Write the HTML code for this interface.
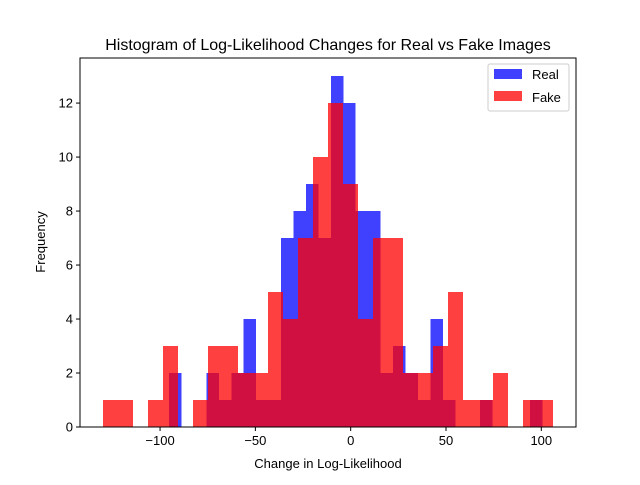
<!DOCTYPE html>
<html><head><meta charset="utf-8"><style>
body{margin:0;background:#fff;font-family:"Liberation Sans",sans-serif}
</style></head><body>
<svg id="chart" width="640" height="480" font-family="Liberation Sans, sans-serif">
<rect width="640" height="480" fill="#fff"/>
<text x="328" y="50" text-anchor="middle" font-size="16">Histogram of Log-Likelihood Changes for Real vs Fake Images</text>
<g id="bars"></g>
<g id="axes"></g>
<text x="328" y="468" text-anchor="middle" font-size="13">Change in Log-Likelihood</text>
<text x="0" y="0" transform="translate(45,242) rotate(-90)" text-anchor="middle" font-size="13">Frequency</text>
<g>
<rect x="488" y="64" width="81" height="47" fill="#fff" stroke="#ccc" rx="2"/>
<g><rect x="494" y="69" width="28" height="10" fill="#0000ff" fill-opacity="0.75"/><text x="532" y="79" font-size="13">Real</text></g>
<g><rect x="494" y="91" width="28" height="10" fill="#ff0000" fill-opacity="0.75"/><text x="532" y="102" font-size="13">Fake</text></g>
</g>
</svg>
<script>
const realStart = -95.3;
const realWidth = 6.53;
const realCounts = [2,0,0,2,1,2,4,1,1,7,8,9,7,13,12,8,8,2,3,2,1,4,1,0,0,1,0,0,0,1];
const fakeStart = -130.0;
const fakeWidth = 7.87;
const fakeCounts = [1,1,0,1,3,0,1,3,3,2,2,5,4,7,10,12,9,4,7,7,2,2,3,5,1,1,2,0,1,1];
const xTicks = [-100,-50,0,50,100];
const yTicks = [0,2,4,6,8,10,12];

const L=80,R=576,T=58,B=427, xMin=-142, xMax=118.2, yMax=13.67;
const sx=v=>L+(v-xMin)/(xMax-xMin)*(R-L);
const sy=v=>B-v/yMax*(B-T);
const NS="http://www.w3.org/2000/svg";
const bars=document.getElementById('bars'), axes=document.getElementById('axes');
function drawSeries(start,w,counts,color,name){
  counts.forEach((c,i)=>{
    if(!c) return;
    const r=document.createElementNS(NS,'rect');
    const x0=sx(start+i*w), x1=sx(start+(i+1)*w);
    r.setAttribute('x',x0); r.setAttribute('width',x1-x0);
    r.setAttribute('y',sy(c)); r.setAttribute('height',sy(0)-sy(c));
    r.setAttribute('fill',color); r.setAttribute('fill-opacity','0.75');
    r.setAttribute('shape-rendering','crispEdges');
    
    
    bars.appendChild(r);
  });
}
drawSeries(realStart,realWidth,realCounts,'#0000ff','real');
drawSeries(fakeStart,fakeWidth,fakeCounts,'#ff0000','fake');
const frame=document.createElementNS(NS,'path');
frame.setAttribute('d',`M${L},${T}H${R}V${B}H${L}Z`);
frame.setAttribute('fill','none');frame.setAttribute('stroke','#000');frame.setAttribute('stroke-width','1');


axes.appendChild(frame);
xTicks.forEach(t=>{
  const x=sx(t);
  const l=document.createElementNS(NS,'line');
  l.setAttribute('x1',x);l.setAttribute('x2',x);l.setAttribute('y1',B);l.setAttribute('y2',B+4);l.setAttribute('stroke','#000');
  
  
  axes.appendChild(l);
  const tx=document.createElementNS(NS,'text');
  tx.setAttribute('x',x);tx.setAttribute('y',B+18);tx.setAttribute('text-anchor','middle');tx.setAttribute('font-size','13');
  tx.textContent=t<0?'\u2212'+(-t):t;
  
  
  axes.appendChild(tx);
});
yTicks.forEach(t=>{
  const y=sy(t);
  const l=document.createElementNS(NS,'line');
  l.setAttribute('x1',L-4);l.setAttribute('x2',L);l.setAttribute('y1',y);l.setAttribute('y2',y);l.setAttribute('stroke','#000');
  
  
  axes.appendChild(l);
  const tx=document.createElementNS(NS,'text');
  tx.setAttribute('x',L-7);tx.setAttribute('y',y+4.5);tx.setAttribute('text-anchor','end');tx.setAttribute('font-size','13');
  tx.textContent=t;
  
  
  axes.appendChild(tx);
});
</script>
</body></html>
